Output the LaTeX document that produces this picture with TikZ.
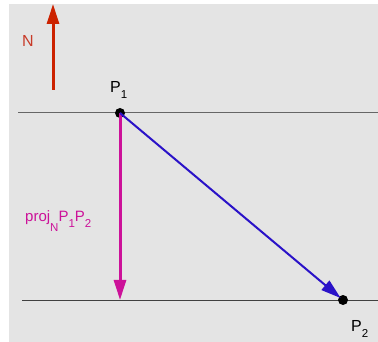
\documentclass[tikz,border=0pt]{standalone}
\usepackage{fontspec}
\setmainfont{Liberation Sans}
\usetikzlibrary{arrows.meta}
\newcommand{\lowsb}[2][6]{\raisebox{-#1pt}{\fontsize{11.5pt}{11.5pt}\selectfont #2}}
\definecolor{bggray}{HTML}{E4E4E4}
\definecolor{nred}{HTML}{CC2200}
\definecolor{lred}{HTML}{C83A28}
\definecolor{pmag}{HTML}{CC1199}
\definecolor{vblue}{HTML}{2A12C8}
\tikzset{
  dot/.style={circle,fill=black,inner sep=0pt,minimum size=10pt},
  lbl/.style={inner sep=0pt,font=\fontsize{16pt}{16pt}\selectfont},
  plane/.style={line width=1pt},
  vec/.style={-{Triangle[length=20pt,width=12pt]}}
}
\begin{document}
\begin{tikzpicture}[x=1pt,y=-1pt]
\useasboundingbox (0,0) rectangle (378,342);
\fill[bggray] (9,4) rectangle (378,342);
% planes
\draw[plane,color=black!60] (18,113) -- (378,113);
\draw[plane,color=black!75] (22,300) -- (378,300);
% points
\node[dot] (p1) at (120,113) {};
\node[dot] (p2) at (343,300) {};
\coordinate (proj) at (120,300);
% normal
\coordinate (ntail) at (53,90);
\coordinate (nhead) at (53,4);
\draw[vec,nred,line width=3pt] (ntail) -- (nhead);
\node[lbl,lred] (nlab) at (28,41) {N};
% projection
\draw[vec,pmag,line width=3pt] (p1.center) -- (proj);
\node[lbl,pmag,font=\fontsize{15pt}{15pt}\selectfont,anchor=base west] (projlab) at (25,222) {proj\lowsb[10]{N}P\lowsb{1}P\lowsb{2}};
% vector P1P2
\draw[vec,vblue,line width=2pt,shorten >=3pt] (p1.center) -- (p2.center);
% labels
\node[lbl,anchor=base west] (p1lab) at (110,93) {P\lowsb{1}};
\node[lbl,anchor=base west] (p2lab) at (351,331) {P\lowsb{2}};
\end{tikzpicture}
\end{document}
